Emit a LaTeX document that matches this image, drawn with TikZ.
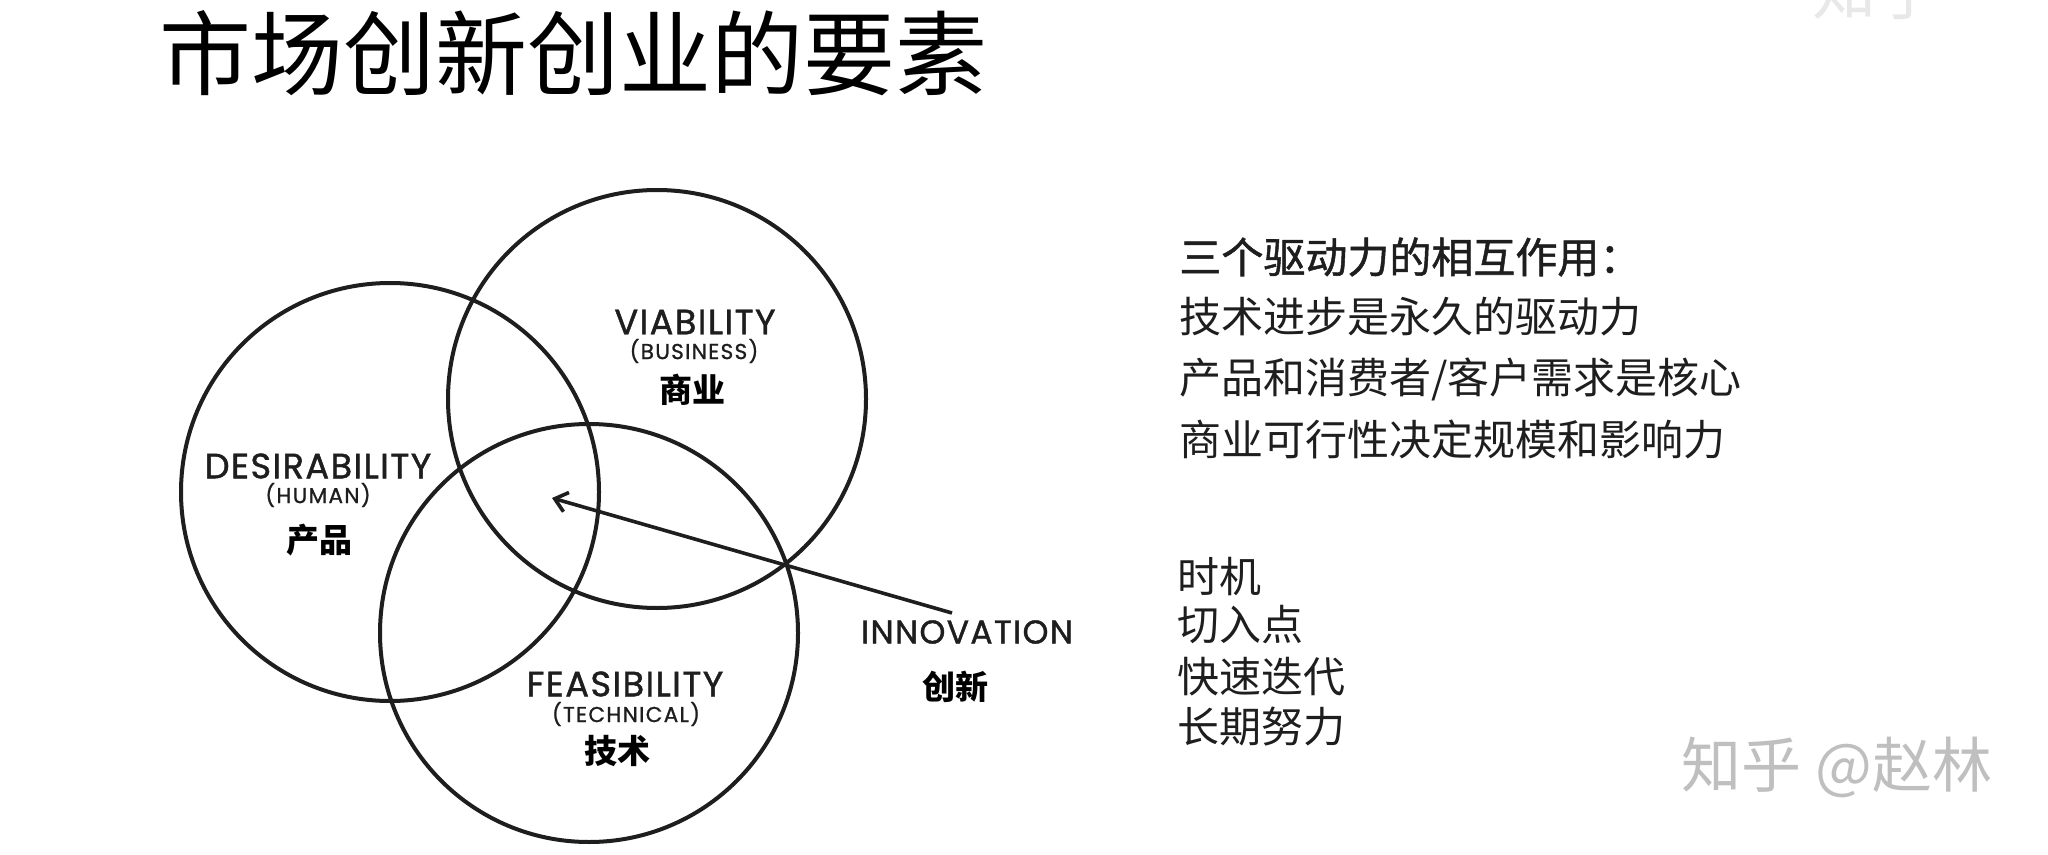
\documentclass[tikz,border=0pt]{standalone}
\usepackage{fontspec}
\setmainfont{Poppins}
\newfontfamily\cjk{Noto Sans CJK SC}
\usetikzlibrary{arrows.meta}
\definecolor{ink}{HTML}{1E1E1E}
\tikzset{
  ring/.style={circle, draw=ink, line width=2pt, minimum size=209pt, inner sep=0pt},
  en/.style={inner sep=0pt, text=ink, font=\fontsize{17.6}{17.6}\selectfont\addfontfeatures{LetterSpace=4,FakeBold=1.2}},
  ensmall/.style={inner sep=0pt, text=ink, font=\fontsize{10.8}{10.8}\selectfont\addfontfeatures{LetterSpace=6,FakeBold=1}},
  zh/.style={inner sep=0pt, text=black, font=\cjk\bfseries\fontsize{16.5}{16.5}\selectfont},
  side/.style={inner sep=0pt, anchor=west, text=ink, font=\cjk\fontsize{21}{21}\selectfont},
  arr/.style={draw=ink, line width=1.8pt, -{Straight Barb[length=6pt,width=10pt,line width=1.8pt]}},
}
\begin{document}
\begin{tikzpicture}[x=0.5pt,y=-0.5pt]
\useasboundingbox[fill=white] (0,0) rectangle (2048,855);
% faint watermark at top right (cut off by the top edge, as in the reference)
\begin{scope}
\clip (0,0) rectangle (2048,855);
\node[inner sep=0pt, anchor=base, text=gray!18, font=\cjk\fontsize{32}{32}\selectfont] (wmtop) at (1876,15) {知乎};
\end{scope}
% title
\node[inner sep=0pt, text=black, font=\cjk\fontsize{46}{46}\selectfont] (title) at (573,53) {市场创新创业的要素};
% circles
\node[ring] (D) at (390,492) {};
\node[ring] (V) at (657,399) {};
\node[ring] (F) at (589,633) {};
% labels
\node[en] (via) at (695,322) {VIABILITY};
\node[ensmall] (bus) at (694,351) {(BUSINESS)};
\node[zh] (shangye) at (692,390) {商业};
\node[en] (des) at (318,466) {DESIRABILITY};
\node[ensmall] (hum) at (318,495) {(HUMAN)};
\node[zh] (chanpin) at (319,540) {产品};
\node[en] (fea) at (625,684) {FEASIBILITY};
\node[ensmall] (tec) at (626,714) {(TECHNICAL)};
\node[zh] (jishu) at (617,751) {技术};
\node[en, font=\fontsize{16.5}{16.5}\selectfont\addfontfeatures{LetterSpace=4,FakeBold=1.2}] (inno) at (967,632) {INNOVATION};
\node[zh] (chuangxin) at (955,687) {创新};
% arrow
\coordinate (tail) at (952,613);
\coordinate (tip) at (552,498);
\draw[arr] (tail) -- (tip);
% right text
\node[side, font=\cjk\fontsize{21}{21}\selectfont\addfontfeatures{FakeBold=1.2}] (r1) at (1179,257) {三个驱动力的相互作用：};
\node[side] (r2) at (1179,317) {技术进步是永久的驱动力};
\node[side] (r3) at (1179,379) {产品和消费者/客户需求是核心};
\node[side] (r4) at (1179,439) {商业可行性决定规模和影响力};
\node[side] (m1) at (1177,577) {时机};
\node[side] (m2) at (1177,625) {切入点};
\node[side] (m3) at (1177,677) {快速迭代};
\node[side] (m4) at (1177,727) {长期努力};
% bottom watermark
\node[inner sep=0pt, text=gray!50, font=\cjk\fontsize{30}{30}\selectfont] (wm) at (1837,767) {知乎 @赵林};
\end{tikzpicture}
\end{document}
